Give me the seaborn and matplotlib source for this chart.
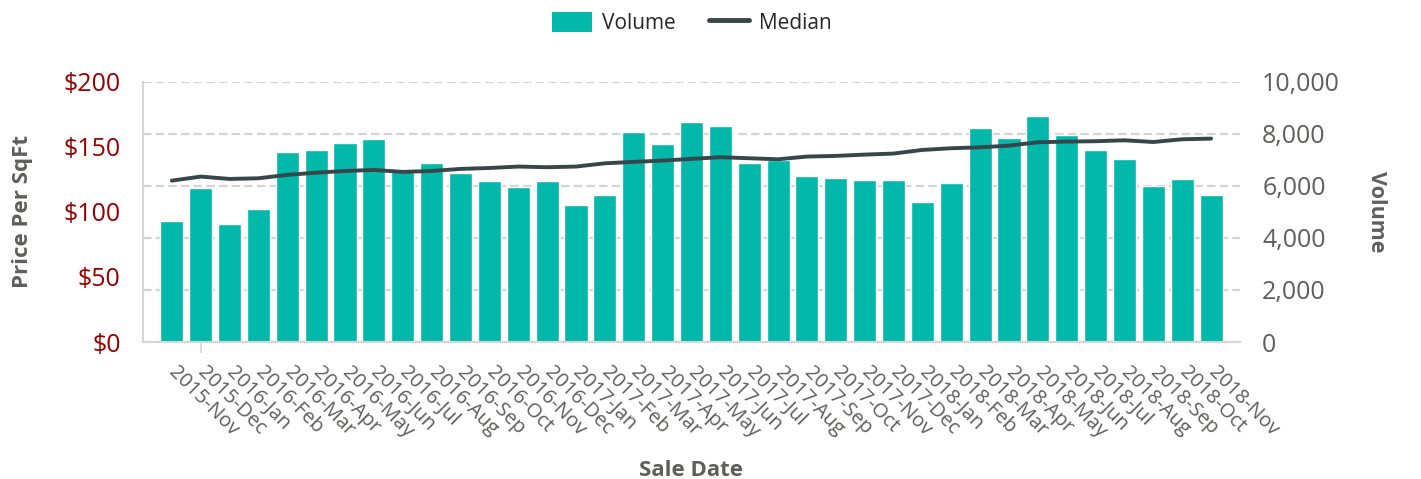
import numpy as np
import pandas as pd
import matplotlib.pyplot as plt
from matplotlib.patches import Patch
from matplotlib.lines import Line2D
from matplotlib.ticker import FuncFormatter
import seaborn as sns

# sale months (x categories)
months = ['2015-Nov', '2015-Dec',
          '2016-Jan', '2016-Feb', '2016-Mar', '2016-Apr', '2016-May', '2016-Jun',
          '2016-Jul', '2016-Aug', '2016-Sep', '2016-Oct', '2016-Nov', '2016-Dec',
          '2017-Jan', '2017-Feb', '2017-Mar', '2017-Apr', '2017-May', '2017-Jun',
          '2017-Jul', '2017-Aug', '2017-Sep', '2017-Oct', '2017-Nov', '2017-Dec',
          '2018-Jan', '2018-Feb', '2018-Mar', '2018-Apr', '2018-May', '2018-Jun',
          '2018-Jul', '2018-Aug', '2018-Sep', '2018-Oct', '2018-Nov']

# number of sales per month (right axis)
volume = [4650, 5920, 4550, 5130, 7310, 7370, 7670, 7810, 6650, 6870, 6480,
          6180, 5960, 6180, 5260, 5670, 8060, 7610, 8470, 8310, 6870, 7000,
          6380, 6310, 6220, 6220, 5370, 6110, 8230, 7860, 8690, 7960, 7380,
          7040, 6010, 6270, 5670]

# median price per sqft (left axis)
median = [124.1, 127.2, 125.4, 125.9, 128.5, 130.2, 131.5, 132.3, 130.8, 131.5,
          133.1, 133.8, 134.9, 134.4, 134.9, 137.4, 138.5, 139.5, 140.8, 142.1,
          141.3, 140.5, 142.6, 143.1, 144.1, 144.9, 147.7, 149.0, 149.7, 151.0,
          153.6, 154.1, 154.4, 155.1, 153.8, 155.9, 156.4]

bar_color = '#01B8AA'
line_color = '#374649'
gray = '#605E5C'
red = '#990000'

df = pd.DataFrame({'month': months, 'volume': volume, 'median': median})
df['pos'] = np.arange(len(df))

sns.set_style('white')
plt.rcParams['font.family'] = ['Open Sans', 'DejaVu Sans']

fig = plt.figure(figsize=(14.21, 4.79), dpi=100)
ax = fig.add_axes([0.1006, 0.286, 0.772, 0.543])

# bars on the volume axis (drawn first, so grid sits behind them)
sns.barplot(data=df, x='month', y='volume', color=bar_color, saturation=1,
            width=0.8, ax=ax)
ax.set_ylim(0, 10000)
ax.set_yticks(np.arange(0, 10001, 2000))
ax.yaxis.set_major_formatter(FuncFormatter(lambda v, p: f'{int(v):,}'))
ax.set_axisbelow(True)
ax.grid(axis='y', linestyle=(0, (3.8, 1.9)), color='#d4d4d4', linewidth=1.6)
ax.set_xlim(-1, 37)

# median price line on the left axis
ax2 = ax.twinx()
sns.lineplot(data=df, x='pos', y='median', color=line_color, linewidth=2.8, ax=ax2)
ax2.set_ylim(0, 200)
ax2.set_yticks(np.arange(0, 201, 50))
ax2.yaxis.set_major_formatter(FuncFormatter(lambda v, p: f'${int(v)}'))
ax2.set_xlim(-1, 37)

# swap sides: price on the left, volume on the right
ax.yaxis.tick_right()
ax.yaxis.set_label_position('right')
ax2.yaxis.tick_left()
ax2.yaxis.set_label_position('left')

for a in (ax, ax2):
    for s in a.spines.values():
        s.set_visible(False)
ax2.spines['left'].set_visible(True)
ax2.spines['left'].set_color('#d6d6d6')
ax2.spines['left'].set_linewidth(1.5)
ax.spines['bottom'].set_visible(True)
ax.spines['bottom'].set_color('#d6d6d6')
ax.spines['bottom'].set_linewidth(1.5)

ax.tick_params(axis='y', length=0, pad=16, labelsize=18, labelcolor=gray)
ax2.tick_params(axis='y', length=0, pad=16, labelsize=18, labelcolor=red)
ax.tick_params(axis='x', length=8, width=1.2, color='#d6d6d6', pad=12,
               labelsize=14.5, labelcolor=gray)
# only one stray tick mark is visible in the original
for i, tl in enumerate(ax.xaxis.get_major_ticks()):
    tl.tick1line.set_visible(i == 1)
plt.setp(ax.get_xticklabels(), rotation=-45, ha='left', va='center',
         rotation_mode='anchor')

ax.set_xlabel('Sale Date', fontsize=16, fontweight='bold', color=gray, labelpad=13)
ax.set_ylabel('Volume', fontsize=15.5, fontweight='bold', color=gray,
              rotation=270, labelpad=34)
ax2.set_ylabel('Price Per SqFt', fontsize=16, fontweight='bold', color=gray,
               labelpad=22)
ax2.set_xlabel('')

handles = [Patch(facecolor=bar_color, edgecolor='none'),
           Line2D([0], [0], color=line_color, linewidth=3.5)]
fig.legend(handles, ['Volume', 'Median'], loc='upper center',
           bbox_to_anchor=(0.487, 1.015), ncol=2, frameon=False, fontsize=15,
           handlelength=1.9, handleheight=1.1, columnspacing=1.6,
           handletextpad=0.5)

fig.savefig('out.png', dpi=100)
